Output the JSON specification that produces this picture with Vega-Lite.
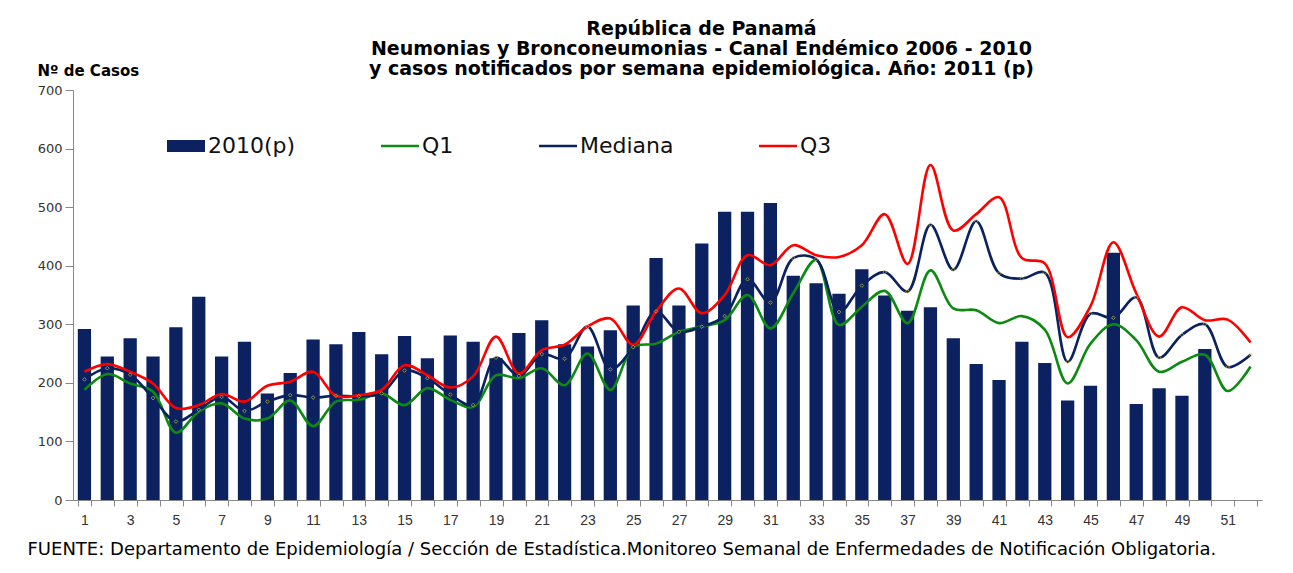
{
  "$schema": "https://vega.github.io/schema/vega-lite/v6.json",
  "autosize": {"type": "none"},
  "width": 1189,
  "height": 410,
  "padding": {"left": 73, "top": 90, "right": 31, "bottom": 73},
  "background": "white",
  "config": {"view": {"stroke": null}},
  "title": {
    "text": ["República de Panamá", "Neumonias y Bronconeumonias - Canal Endémico 2006  - 2010", "y casos notificados por semana epidemiológica. Año: 2011 (p)"],
    "font": "DejaVu Sans",
    "fontSize": 19,
    "fontWeight": "bold",
    "color": "#000000",
    "lineHeight": 20,
    "anchor": "middle",
    "dx": 34,
    "offset": -16
  },
  "data": {
    "values": [
      {"semana": 1, "casos_2010": 292, "Q1": 188, "Mediana": 206, "Q3": 219},
      {"semana": 2, "casos_2010": 245, "Q1": 215, "Mediana": 225, "Q3": 232},
      {"semana": 3, "casos_2010": 276, "Q1": 199, "Mediana": 214, "Q3": 219},
      {"semana": 4, "casos_2010": 245, "Q1": 185, "Mediana": 174, "Q3": 199},
      {"semana": 5, "casos_2010": 295, "Q1": 115, "Mediana": 134, "Q3": 157},
      {"semana": 6, "casos_2010": 347, "Q1": 151, "Mediana": 154, "Q3": 162},
      {"semana": 7, "casos_2010": 245, "Q1": 165, "Mediana": 176, "Q3": 181},
      {"semana": 8, "casos_2010": 270, "Q1": 139, "Mediana": 152, "Q3": 168},
      {"semana": 9, "casos_2010": 182, "Q1": 139, "Mediana": 168, "Q3": 195},
      {"semana": 10, "casos_2010": 217, "Q1": 170, "Mediana": 179, "Q3": 202},
      {"semana": 11, "casos_2010": 274, "Q1": 126, "Mediana": 175, "Q3": 219},
      {"semana": 12, "casos_2010": 266, "Q1": 168, "Mediana": 178, "Q3": 178},
      {"semana": 13, "casos_2010": 287, "Q1": 171, "Mediana": 177, "Q3": 179},
      {"semana": 14, "casos_2010": 249, "Q1": 182, "Mediana": 182, "Q3": 188},
      {"semana": 15, "casos_2010": 280, "Q1": 162, "Mediana": 221, "Q3": 230},
      {"semana": 16, "casos_2010": 242, "Q1": 191, "Mediana": 208, "Q3": 213},
      {"semana": 17, "casos_2010": 281, "Q1": 171, "Mediana": 180, "Q3": 192},
      {"semana": 18, "casos_2010": 270, "Q1": 159, "Mediana": 162, "Q3": 211},
      {"semana": 19, "casos_2010": 242, "Q1": 213, "Mediana": 243, "Q3": 279},
      {"semana": 20, "casos_2010": 285, "Q1": 208, "Mediana": 212, "Q3": 216},
      {"semana": 21, "casos_2010": 307, "Q1": 225, "Mediana": 249, "Q3": 256},
      {"semana": 22, "casos_2010": 266, "Q1": 196, "Mediana": 241, "Q3": 265},
      {"semana": 23, "casos_2010": 262, "Q1": 250, "Mediana": 296, "Q3": 296},
      {"semana": 24, "casos_2010": 290, "Q1": 188, "Mediana": 223, "Q3": 310},
      {"semana": 25, "casos_2010": 332, "Q1": 261, "Mediana": 261, "Q3": 265},
      {"semana": 26, "casos_2010": 413, "Q1": 267, "Mediana": 322, "Q3": 322},
      {"semana": 27, "casos_2010": 332, "Q1": 287, "Mediana": 287, "Q3": 361},
      {"semana": 28, "casos_2010": 438, "Q1": 296, "Mediana": 296, "Q3": 319},
      {"semana": 29, "casos_2010": 492, "Q1": 307, "Mediana": 314, "Q3": 350},
      {"semana": 30, "casos_2010": 492, "Q1": 350, "Mediana": 377, "Q3": 418},
      {"semana": 31, "casos_2010": 507, "Q1": 293, "Mediana": 337, "Q3": 401},
      {"semana": 32, "casos_2010": 383, "Q1": 353, "Mediana": 413, "Q3": 435},
      {"semana": 33, "casos_2010": 370, "Q1": 410, "Mediana": 411, "Q3": 418},
      {"semana": 34, "casos_2010": 352, "Q1": 299, "Mediana": 321, "Q3": 415},
      {"semana": 35, "casos_2010": 394, "Q1": 330, "Mediana": 366, "Q3": 435},
      {"semana": 36, "casos_2010": 349, "Q1": 357, "Mediana": 389, "Q3": 488},
      {"semana": 37, "casos_2010": 323, "Q1": 302, "Mediana": 356, "Q3": 403},
      {"semana": 38, "casos_2010": 329, "Q1": 392, "Mediana": 470, "Q3": 572},
      {"semana": 39, "casos_2010": 276, "Q1": 327, "Mediana": 393, "Q3": 460},
      {"semana": 40, "casos_2010": 232, "Q1": 324, "Mediana": 476, "Q3": 488},
      {"semana": 41, "casos_2010": 205, "Q1": 302, "Mediana": 387, "Q3": 517},
      {"semana": 42, "casos_2010": 270, "Q1": 314, "Mediana": 378, "Q3": 413},
      {"semana": 43, "casos_2010": 234, "Q1": 291, "Mediana": 388, "Q3": 404},
      {"semana": 44, "casos_2010": 170, "Q1": 199, "Mediana": 236, "Q3": 278},
      {"semana": 45, "casos_2010": 195, "Q1": 267, "Mediana": 318, "Q3": 331},
      {"semana": 46, "casos_2010": 422, "Q1": 300, "Mediana": 311, "Q3": 440},
      {"semana": 47, "casos_2010": 164, "Q1": 273, "Mediana": 346, "Q3": 353},
      {"semana": 48, "casos_2010": 191, "Q1": 219, "Mediana": 243, "Q3": 279},
      {"semana": 49, "casos_2010": 178, "Q1": 236, "Mediana": 282, "Q3": 329},
      {"semana": 50, "casos_2010": 258, "Q1": 248, "Mediana": 300, "Q3": 307},
      {"semana": 51, "casos_2010": null, "Q1": 186, "Mediana": 227, "Q3": 308},
      {"semana": 52, "casos_2010": null, "Q1": 228, "Mediana": 248, "Q3": 269}
    ]
  },
  "encoding": {
    "x": {
      "field": "semana",
      "type": "ordinal",
      "scale": {"paddingInner": 0.42, "paddingOuter": 0.21},
      "axis": {
        "title": "FUENTE: Departamento de Epidemiología / Sección de Estadística.Monitoreo Semanal de Enfermedades de Notificación Obligatoria.",
        "titleFont": "DejaVu Sans",
        "titleFontSize": 18,
        "titleFontWeight": "normal",
        "titleColor": "#000000",
        "titleAnchor": "start",
        "titleAlign": "left",
        "titleBaseline": "middle",
        "titleX": -46,
        "titleY": 49,
        "labelAngle": 0,
        "labelExpr": "datum.value % 2 == 1 ? datum.label : ''",
        "labelFont": "Liberation Sans Narrow, Liberation Sans",
        "labelFontSize": 14,
        "labelColor": "#333333",
        "labelPadding": 7,
        "tickBand": "extent",
        "tickSize": 6,
        "tickColor": "#888888",
        "domainColor": "#888888",
        "grid": false
      }
    }
  },
  "layer": [
    {
      "mark": {"type": "bar", "color": "#0b2160"},
      "encoding": {
        "y": {
          "field": "casos_2010",
          "type": "quantitative",
          "scale": {"domain": [0, 700]},
          "axis": {
            "title": "Nº de Casos",
            "titleFont": "DejaVu Sans",
            "titleFontSize": 15,
            "titleFontWeight": "bold",
            "titleColor": "#000000",
            "titleAngle": 0,
            "titleAlign": "left",
            "titleBaseline": "bottom",
            "titleX": -36,
            "titleY": -12,
            "values": [0, 100, 200, 300, 400, 500, 600, 700],
            "labelFont": "DejaVu Sans",
            "labelFontSize": 13,
            "labelColor": "#333333",
            "labelPadding": 3,
            "tickSize": 8,
            "tickColor": "#888888",
            "domainColor": "#888888",
            "grid": false
          }
        },
        "color": {
          "datum": "2010(p)",
          "type": "nominal",
          "scale": {
            "domain": ["2010(p)", "Q1", "Mediana", "Q3"],
            "range": ["#0b2160", "#0c8a12", "#0b2160", "#ff0000"]
          },
          "legend": {
            "title": null,
            "orient": "none",
            "legendX": 102,
            "legendY": 45,
            "direction": "horizontal",
            "columns": 4,
            "columnPadding": 80,
            "labelFont": "DejaVu Sans",
            "labelFontSize": 22,
            "labelColor": "#111111",
            "labelOffset": 11,
            "labelLimit": 300,
            "symbolSize": 1444,
            "encode": {
              "symbols": {
                "update": {
                  "shape": {"signal": "datum.value === '2010(p)' ? 'M-1,-0.32H1V0.32H-1Z' : 'M-1,0H1'"},
                  "fill": {"signal": "datum.value === '2010(p)' ? '#0b2160' : 'transparent'"},
                  "stroke": {"signal": "datum.value === '2010(p)' ? '#0b2160' : (datum.value === 'Q1' ? '#0c8a12' : (datum.value === 'Q3' ? '#ff0000' : '#0b2160'))"},
                  "strokeWidth": {"signal": "datum.value === '2010(p)' ? 0 : 2.5"},
                  "opacity": {"value": 1}
                }
              }
            }
          }
        }
      }
    },
    {
      "transform": [{"fold": ["Q1", "Mediana", "Q3"], "as": ["serie", "valor"]}],
      "mark": {"type": "line", "interpolate": "catmull-rom", "strokeWidth": 2.6},
      "encoding": {
        "y": {"field": "valor", "type": "quantitative"},
        "color": {"field": "serie", "type": "nominal", "legend": null},
        "detail": {"field": "serie"}
      }
    },
    {
      "mark": {"type": "point", "shape": "diamond", "size": 14, "filled": false, "stroke": "#c8c84a", "strokeWidth": 1},
      "encoding": {
        "y": {"field": "Mediana", "type": "quantitative"}
      }
    }
  ]
}
